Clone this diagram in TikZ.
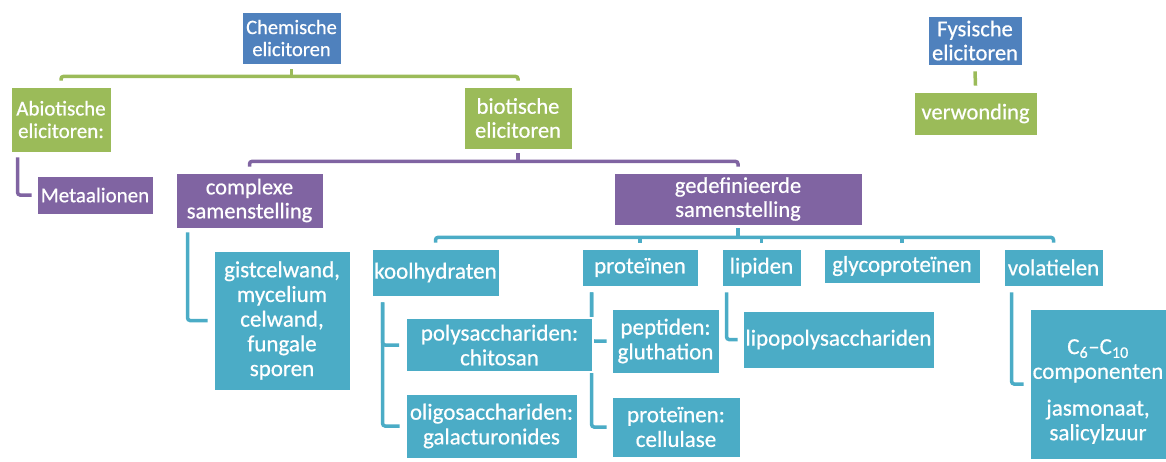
\documentclass[tikz,border=0pt]{standalone}
\usepackage{fontspec}
\setmainfont{Carlito}[FakeBold=0.6,AutoFakeBold=0.6]
\usetikzlibrary{calc}
\pgfdeclarelayer{bg}
\pgfsetlayers{bg,main}
\definecolor{eblue}{HTML}{4F81BD}
\definecolor{egreen}{HTML}{9BBB59}
\definecolor{epurple}{HTML}{8064A2}
\definecolor{eteal}{HTML}{4BACC6}
\tikzset{
  ebox/.style={draw=white, line width=0.8pt, inner sep=0pt, align=center, text=white},
  bluebox/.style={ebox, fill=eblue},
  greenbox/.style={ebox, fill=egreen},
  purplebox/.style={ebox, fill=epurple},
  tealbox/.style={ebox, fill=eteal},
  fa/.style={font=\fontsize{20.5}{22}\selectfont\bfseries},
  fb/.style={font=\fontsize{21}{22.5}\selectfont\bfseries},
  fc/.style={font=\fontsize{22.5}{24}\selectfont\bfseries},
  fd/.style={font=\fontsize{23}{24.7}\selectfont\bfseries},
  conn/.style={line width=3.5pt, rounded corners=2.5pt},
  gline/.style={conn, draw=egreen},
  pline/.style={conn, draw=epurple},
  tline/.style={conn, draw=eteal},
}
\begin{document}
\begin{tikzpicture}[x=1pt,y=-1pt]
\useasboundingbox (0,0) rectangle (1166,461);
% level 1
\node[bluebox, fa, minimum width=99pt, minimum height=52pt] (chem) at (291.5,38) {Chemische\\elicitoren};
\node[bluebox, fc, minimum width=94pt, minimum height=49pt] (fys) at (975,40.5) {Fysische\\elicitoren};
% level 2
\node[greenbox, fb, minimum width=100pt, minimum height=65pt] (abio) at (61,119.5) {Abiotische\\elicitoren:};
\node[greenbox, fc, minimum width=108pt, minimum height=62pt] (bio) at (518,118) {biotische\\elicitoren};
\node[greenbox, fc, minimum width=123pt, minimum height=43pt] (verw) at (975.5,113.5) {verwonding};
% level 3
\node[purplebox, fb, minimum width=116pt, minimum height=38pt] (metaal) at (95,195) {Metaalionen};
\node[purplebox, fc, minimum width=147pt, minimum height=55pt] (complexe) at (249.5,200.5) {complexe\\samenstelling};
\node[purplebox, fc, minimum width=248pt, minimum height=52pt] (gedef) at (738,199) {gedefinieerde\\samenstelling};
% level 4
\node[tealbox, fd, minimum width=136pt, minimum height=139pt] (gist) at (282,320.5) {gistcelwand,\\mycelium\\celwand,\\fungale\\sporen};
\node[tealbox, fd, minimum width=127pt, minimum height=47pt] (kool) at (435.5,272.5) {koolhydraten};
\node[tealbox, fd, minimum width=116pt, minimum height=37pt] (prot) at (640,267.5) {proteïnen};
\node[tealbox, fd, minimum width=79pt, minimum height=37pt] (lip) at (761.5,267.5) {lipiden};
\node[tealbox, fd, minimum width=156pt, minimum height=34pt] (glyco) at (902,266) {glycoproteïnen};
\node[tealbox, fd, minimum width=99pt, minimum height=37pt] (vol) at (1053.5,267.5) {volatielen};
% level 5
\node[tealbox, fd, line width=2pt, minimum width=187pt, minimum height=54pt] (poly) at (499.5,345) {polysacchariden:\\chitosan};
\node[tealbox, fd, minimum width=171pt, minimum height=64pt] (oligo) at (491.5,426) {oligosacchariden:\\galacturonides};
\node[tealbox, fd, minimum width=107pt, minimum height=64pt] (pept) at (665.5,341) {peptiden:\\gluthation};
\node[tealbox, fd, minimum width=128pt, minimum height=60pt] (protcell) at (676,427) {proteïnen:\\cellulase};
\node[tealbox, fd, minimum width=191pt, minimum height=57pt] (lipo) at (838.5,339.5) {lipopolysacchariden};
\node[tealbox, fd, minimum width=136pt, minimum height=150pt] (c6) at (1098,384) {\rule{0pt}{30pt}C\textsubscript{6}–C\textsubscript{10}\\componenten\\[12pt]jasmonaat,\\salicylzuur};

\begin{pgfonlayer}{bg}
% green bus
\coordinate (gbus) at ([yshift=-12pt]chem.south);
\draw[gline] ([yshift=6pt]abio.north) |- (gbus) -| ([yshift=6pt]bio.north);
\draw[gline] ([yshift=-5pt]chem.south) -- (gbus);
\draw[gline] ([yshift=-6pt]fys.south) -- ([yshift=6pt]verw.north);
% purple
\draw[pline] ([xshift=7pt,yshift=-5pt]abio.south west) |- ([xshift=-5pt]metaal.west);
\coordinate (pbus) at ([yshift=-12pt]bio.south);
\draw[pline] ([yshift=6pt]complexe.north) |- (pbus) -| ([yshift=6pt]gedef.north);
\draw[pline] ([yshift=-4pt]bio.south) -- (pbus);
% teal
\draw[tline] ([xshift=12pt,yshift=-4pt]complexe.south west) |- ([xshift=-6pt]gist.west);
\coordinate (tbus) at ([yshift=-12pt]gedef.south);
\draw[tline] ([yshift=6pt]kool.north) |- (tbus) -| ([yshift=6pt]vol.north);
\draw[tline] ([yshift=-3pt]gedef.south) -- (tbus);
\draw[tline] (prot.north |- tbus) -- ([yshift=6pt]prot.north);
\draw[tline] (lip.north |- tbus) -- ([yshift=6pt]lip.north);
\draw[tline] (glyco.north |- tbus) -- ([yshift=6pt]glyco.north);
% brackets
\draw[tline] ([xshift=11pt,yshift=-6pt]kool.south west) |- ([xshift=-6pt]poly.west);
\draw[tline] ([xshift=11pt,yshift=-6pt]kool.south west) |- ([xshift=-6pt]oligo.west);
\draw[tline] ([xshift=10pt,yshift=-6pt]prot.south west) |- ([xshift=-5pt]pept.west);
\draw[tline] ([xshift=10pt,yshift=-6pt]prot.south west) |- ([xshift=-5pt]protcell.west);
\draw[tline] ([xshift=5pt,yshift=-6pt]lip.south west) |- ([xshift=-5pt]lipo.west);
\draw[tline] ([xshift=8pt,yshift=-6pt]vol.south west) |- ([xshift=-6pt]c6.west);
\end{pgfonlayer}
\end{tikzpicture}
\end{document}
